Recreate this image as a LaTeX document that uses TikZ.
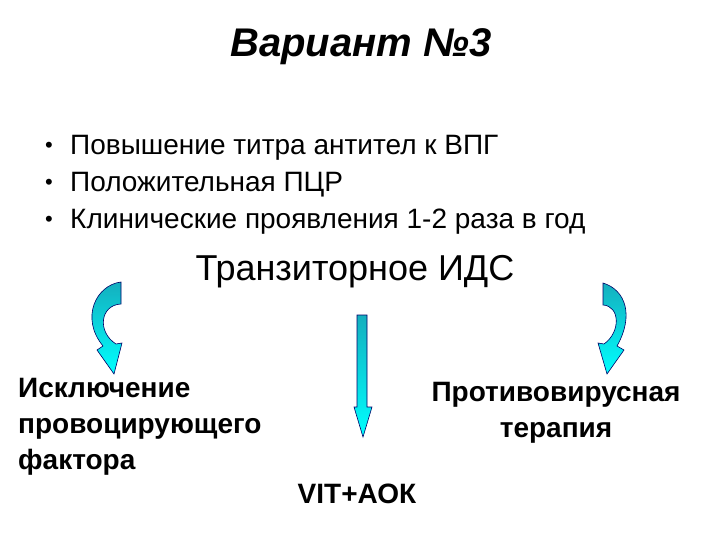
\documentclass[tikz,border=0pt]{standalone}
\usepackage{fontspec}
\setmainfont{Liberation Sans}
\begin{document}
\begin{tikzpicture}[x=1pt,y=-1pt,
  arrow body/.style={draw=black!60!blue,line width=0.6pt,
    top color={rgb,255:red,20;green,175;blue,190},bottom color=cyan},
  bullet line/.style={anchor=west,inner sep=0pt,
    font=\fontsize{28}{32}\selectfont},
  label node/.style={inner sep=0pt,
    font=\fontsize{28}{36}\selectfont\bfseries}]
  \useasboundingbox (0,0) rectangle (720,540);

  \node[font=\fontsize{40}{46}\selectfont\bfseries\itshape] (title) at (361,47) {Вариант №3};

  \node[bullet line] (b1) at (45,148) {\makebox[25pt][l]{\raisebox{2pt}{\fontsize{22}{24}\selectfont\textbullet}}Повышение титра антител к ВПГ};
  \node[bullet line] (b2) at (45,185) {\makebox[25pt][l]{\raisebox{2pt}{\fontsize{22}{24}\selectfont\textbullet}}Положительная ПЦР};
  \node[bullet line] (b3) at (45,222) {\makebox[25pt][l]{\raisebox{2pt}{\fontsize{22}{24}\selectfont\textbullet}}Клинические проявления 1-2 раза в год};

  \node[font=\fontsize{36}{42}\selectfont] (ids) at (355,272) {Транзиторное ИДС};

  \node[label node,anchor=north west,align=left] (excl) at (18,378)
    {Исключение\\провоцирующего\\фактора};
  \node[label node,align=center] (anti) at (556,413) {Противовирусная\\терапия};
  \node[label node] (vit) at (357,494) {VIT+АОК};

  % left curved arrow
  \path[arrow body] (121,282) .. controls (96,285) and (80,318) .. (103,346)
    -- (97,350) -- (114,374) -- (122,343) -- (116,344)
    .. controls (97,332) and (100,305) .. (121,304) -- cycle;
  % straight arrow in the middle
  \path[arrow body] (357,315) -- (367,315) -- (367,407) -- (372,407)
    -- (363,437) -- (354,407) -- (357,407) -- cycle;
  % right curved arrow
  \path[arrow body] (603,283) .. controls (626,290) and (634,316) .. (617,346)
    -- (624,350) -- (607,374) -- (598,343) -- (604,344)
    .. controls (621,332) and (620,306) .. (603,305) -- cycle;
\end{tikzpicture}
\end{document}
